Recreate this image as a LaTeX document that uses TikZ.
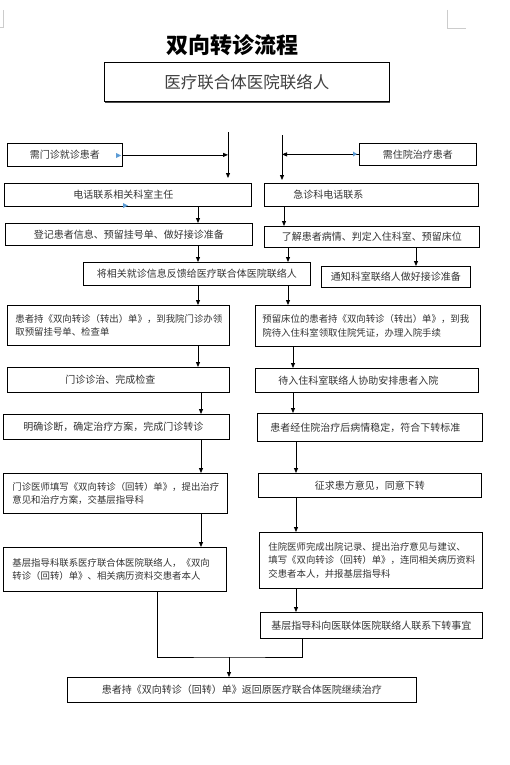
\documentclass[tikz,border=0pt]{standalone}
\usepackage{fontspec}
\newfontfamily\cjk{Noto Sans CJK SC}
\usepackage{tikz}
\usetikzlibrary{arrows.meta,shadows}

\definecolor{boxtext}{HTML}{333333}
\definecolor{tipblue}{HTML}{5B9BD5}

\begin{document}
\begin{tikzpicture}[x=1pt, y=-1pt,
    box/.style={draw, line width=0.8pt, anchor=north west, inner sep=0pt, text=boxtext, font=\cjk\fontsize{10}{14}\selectfont},
    two/.style={align=left, font=\cjk\fontsize{9.4}{13.5}\selectfont},
    arr/.style={line width=0.8pt, -{Triangle[length=5pt,width=4pt]}}]
    \useasboundingbox (0,0) rectangle (510,765);

    \draw[gray!40, line width=0.6pt] (0,27) -- (3,27) -- (3,10);
    \draw[gray!40, line width=0.6pt] (447,10) -- (447,28) -- (466,28);

    \node[font=\cjk\bfseries\fontsize{22}{22}\selectfont] (title) at (232,45) {双向转诊流程};

    \node[box, minimum width=285, minimum height=39, fill=white, text=black!75,
          general shadow={shadow xshift=0.8pt, shadow yshift=-1.2pt, fill=black!70},
          font=\cjk\fontsize{16.5}{18}\selectfont] (lxr) at (104,62) {医疗联合体医院联络人};

    \node[box, minimum width=115, minimum height=23] (mz) at (7,143) {需门诊就诊患者};
    \node[box, minimum width=117, minimum height=22] (zy) at (359,143) {需住院治疗患者};

    \node[box, minimum width=247, minimum height=23, text width=109pt, align=left] (dh) at (4,183) {电话联系相关科室主任};
    \node[box, minimum width=214, minimum height=23, text width=156pt, align=left] (jz) at (264,183) {急诊科电话联系};
    \node[box, minimum width=247, minimum height=22] (dj) at (5,223) {登记患者信息、预留挂号单、做好接诊准备};
    \node[box, minimum width=215, minimum height=21] (lj) at (264,226) {了解患者病情、判定入住科室、预留床位};
    \node[box, minimum width=227, minimum height=23] (fk) at (83,262) {将相关就诊信息反馈给医疗联合体医院联络人};
    \node[box, minimum width=149, minimum height=21] (tz) at (321,266) {通知科室联络人做好接诊准备};

    \node[box, two, minimum width=222, minimum height=40, text width=206pt] (zc) at (7,305)
        {患者持《双向转诊（转出）单》，到我院门诊办领\\取预留挂号单、检查单};
    \node[box, two, minimum width=225, minimum height=41, text width=211pt] (yl) at (255,305)
        {预留床位的患者持《双向转诊（转出）单》，到我\\院待入住科室领取住院凭证，办理入院手续};
    \node[box, minimum width=222, minimum height=25, text width=106pt, align=left] (mzz) at (7,367) {门诊诊治、完成检查};
    \node[box, minimum width=223, minimum height=24, text width=177pt, align=left] (dr) at (255,368) {待入住科室联络人协助安排患者入院};
    \node[box, minimum width=226, minimum height=25, text width=186pt, align=left] (mq) at (3,414) {明确诊断，确定治疗方案，完成门诊转诊};
    \node[box, minimum width=225, minimum height=28, text width=199pt, align=left] (hz) at (257,413) {患者经住院治疗后病情稳定，符合下转标准};

    \node[box, two, minimum width=224, minimum height=40, text width=206pt] (mt) at (3,473)
        {门诊医师填写《双向转诊（回转）单》，提出治疗\\意见和治疗方案，交基层指导科};
    \node[box, minimum width=223, minimum height=24] (zq) at (258,473) {征求患方意见，同意下转};
    \node[box, two, minimum width=223, minimum height=44, text width=205pt] (jc) at (3,547)
        {基层指导科联系医疗联合体医院联络人，《双向\\转诊（回转）单》、相关病历资料交患者本人};
    \node[box, two, minimum width=223, minimum height=56, text width=205pt] (zyys) at (259,532)
        {住院医师完成出院记录、提出治疗意见与建议、\\填写《双向转诊（回转）单》，连同相关病历资料\\交患者本人，并报基层指导科};
    \node[box, minimum width=222, minimum height=26] (jx) at (260,612) {基层指导科向医联体医院联络人联系下转事宜};
    \node[box, minimum width=349, minimum height=25] (hc) at (67,677) {患者持《双向转诊（回转）单》返回原医疗联合体医院继续治疗};

    \coordinate (ltop) at (228,132);
    \coordinate (rtop) at (282,135);
    \coordinate (xa) at (198,0);
    \coordinate (xb) at (201,0);
    \coordinate (xc) at (157,0);
    \coordinate (xd) at (284,0);
    \coordinate (xe) at (288,0);
    \coordinate (xf) at (293,0);
    \coordinate (xg) at (296,0);
    \coordinate (xh) at (302,0);
    \coordinate (xt) at (416,0);
    \coordinate (jn) at (229,657);

    \draw[arr, shorten >=5pt] (ltop) -- (ltop |- dh.north);
    \draw[arr, shorten >=3pt] (rtop) -- (rtop |- jz.north);
    \draw[arr] (mz.east) -- (mz.east -| ltop);
    \draw[arr] (zy.west) -- (zy.west -| rtop);

    \draw[arr] (dh.south -| xa) -- (dj.north -| xa);
    \draw[arr] (dj.south -| xa) -- (fk.north -| xa);
    \draw[arr] (fk.south -| xa) -- (zc.north -| xa);
    \draw[arr] (zc.south -| xa) -- (mzz.north -| xa);
    \draw[arr] (mzz.south -| xb) -- (mq.north -| xb);
    \draw[arr] (mq.south -| xb) -- (mt.north -| xb);
    \draw[arr] (mt.south -| xb) -- (jc.north -| xb);

    \draw[arr] (jz.south -| xd) -- (lj.north -| xd);
    \draw[arr] (lj.south -| xe) -- (fk.north -| xe);
    \draw[arr] (lj.south -| xt) -- (tz.north -| xt);
    \draw[arr] (fk.south -| xe) -- (yl.north -| xe);
    \draw[arr] (yl.south -| xf) -- (dr.north -| xf);
    \draw[arr] (dr.south -| xf) -- (hz.north -| xf);
    \draw[arr] (hz.south -| xg) -- (zq.north -| xg);
    \draw[arr] (zq.south -| xg) -- (zyys.north -| xg);
    \draw[arr] (zyys.south -| xg) -- (jx.north -| xg);

    \draw[line width=0.8pt] (jc.south -| xc) |- (jn) -| (jx.south -| xh);
    \draw[arr] (jn) -- (hc.north -| jn);

    \fill[tipblue] (121,155.5) -- (116,153) -- (116,158) -- cycle;
    \fill[tipblue] (128,205.5) -- (123,203) -- (123,208) -- cycle;
    \fill[tipblue] (357,154) -- (353,151.5) -- (353,156.5) -- cycle;
\end{tikzpicture}
\end{document}
